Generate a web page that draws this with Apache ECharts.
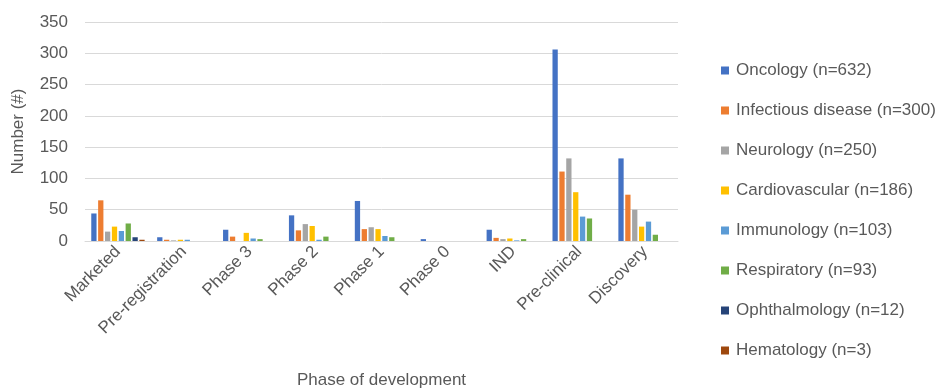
<!DOCTYPE html>
<html>
<head>
<meta charset="utf-8">
<script src="https://cdn.jsdelivr.net/npm/echarts@6/dist/echarts.min.js"></script>
<style>
  html, body { margin: 0; padding: 0; background: #fff; }
  #chart { width: 943px; height: 388px; }
</style>
</head>
<body>
<div id="chart"></div>
<script>
// Development phases along the x axis
const phases = ['Marketed', 'Pre-registration', 'Phase 3', 'Phase 2', 'Phase 1', 'Phase 0', 'IND', 'Pre-clinical', 'Discovery'];

// Number of programmes per therapeutic area, one value per phase
const oncology       = [44, 6, 18, 41, 64, 3, 18, 306, 132];
const infectious     = [65, 2, 7, 17, 19, 0, 5, 111, 74];
const neurology      = [15, 1, 0, 27, 22, 0, 3, 132, 50];
const cardiovascular = [23, 2, 13, 24, 19, 0, 4, 78, 23];
const immunology     = [16, 2, 4, 2, 8, 0, 1, 39, 31];
const respiratory    = [28, 0, 3, 7, 6, 0, 3, 36, 10];
const ophthalmology  = [6, 0, 0, 0, 0, 0, 0, 0, 0];
const hematology     = [2, 0, 0, 0, 0, 0, 0, 0, 0];

const seriesNames = [
  'Oncology (n=632)', 'Infectious disease (n=300)', 'Neurology (n=250)',
  'Cardiovascular (n=186)', 'Immunology (n=103)', 'Respiratory (n=93)',
  'Ophthalmology (n=12)', 'Hematology (n=3)'
];
const seriesData = [oncology, infectious, neurology, cardiovascular, immunology, respiratory, ophthalmology, hematology];
const colors = ['#4472C4', '#ED7D31', '#A5A5A5', '#FFC000', '#5B9BD5', '#70AD47', '#264478', '#9E480E'];

const yTicks = [0, 50, 100, 150, 200, 250, 300, 350];

const FONT = 'Liberation Sans';
const TEXT = '#595959';
const SIZE = 17;

const chart = echarts.init(document.getElementById('chart'), null, { renderer: 'canvas' });

chart.setOption({
  animation: false,
  color: colors,
  textStyle: { fontFamily: FONT },
  grid: { left: 85, right: 265, top: 22, bottom: 147, containLabel: false, outerBoundsMode: 'none' },
  legend: {
    orient: 'vertical',
    left: 721,
    top: 62,
    padding: 0,
    itemWidth: 8,
    itemHeight: 8,
    itemGap: 23,
    icon: 'rect',
    textStyle: { fontFamily: FONT, fontSize: SIZE, color: TEXT, padding: [0, 0, 0, 2] },
    data: seriesNames
  },
  xAxis: {
    type: 'category',
    data: phases,
    name: 'Phase of development',
    nameLocation: 'middle',
    nameGap: 131,
    nameTextStyle: { fontFamily: FONT, fontSize: SIZE, color: TEXT },
    axisLine: { lineStyle: { color: '#D9D9D9', width: 1 } },
    axisTick: { show: false },
    axisLabel: { rotate: 45, fontFamily: FONT, fontSize: SIZE, color: TEXT, margin: 8, interval: 0 }
  },
  yAxis: {
    type: 'value',
    min: yTicks[0],
    max: yTicks[yTicks.length - 1],
    interval: 50,
    name: 'Number (#)',
    nameLocation: 'middle',
    nameGap: 58,
    nameRotate: 90,
    nameTextStyle: { fontFamily: FONT, fontSize: SIZE, color: TEXT },
    axisLine: { show: false },
    axisTick: { show: false },
    axisLabel: { fontFamily: FONT, fontSize: SIZE, color: TEXT, margin: 17 },
    splitLine: { lineStyle: { color: '#D9D9D9', width: 1 } }
  },
  series: seriesNames.map((name, i) => ({
    name: name,
    type: 'bar',
    data: seriesData[i],
    barGap: '30%',
    barCategoryGap: '19%',
    itemStyle: { color: colors[i] }
  }))
});
</script>
</body>
</html>
